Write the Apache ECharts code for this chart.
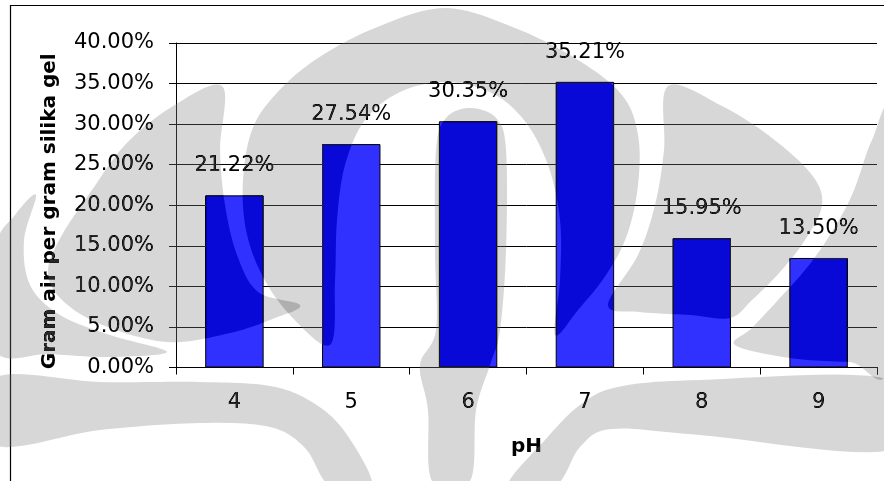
<!DOCTYPE html>
<html>
<head>
<meta charset="utf-8">
<script src="https://cdn.jsdelivr.net/npm/echarts@6/dist/echarts.min.js"></script>
<style>
  html, body { margin: 0; padding: 0; background: #ffffff; }
  #chart { width: 884px; height: 481px; }
</style>
</head>
<body>
<div id="chart"></div>
<script>
// pH values tested and water uptake (gram air per gram silika gel, in %)
const phLevels = ['4', '5', '6', '7', '8', '9'];
const waterUptake = [21.22, 27.54, 30.35, 35.21, 15.95, 13.50];
const yTicks = { min: 0, max: 40, step: 5 };

const textFont = 'DejaVu Sans';

// Page watermark (university emblem), laid over the page as soft gray pieces
const emblemPieces = [
  // central dome arch
  [[330,345],[290,315],[262,275],[246,230],[243,180],[252,130],[275,95],[315,60],[375,28],[445,8],
   [515,28],[578,60],[622,95],[638,135],[638,185],[627,235],[606,275],[578,310],[555,335],
   [560,280],[560,220],[548,165],[524,120],[490,92],[445,82],[400,92],[365,120],[345,165],[337,220],[335,280]],
  // trunk and stem
  [[470,108],[496,118],[506,150],[506,250],[500,330],[490,365],[476,410],[470,481],
   [432,481],[428,410],[420,365],[436,330],[435,250],[436,150],[446,118]],
  // left wing
  [[222,86],[170,108],[125,145],[92,190],[62,235],[48,270],[60,298],[100,324],[167,342],[230,333],[275,318],[300,305],
   [258,292],[237,255],[225,205],[220,150]],
  // right wing
  [[668,86],[722,106],[772,138],[812,175],[822,205],[805,240],[780,272],[752,300],[730,318],[690,315],[640,312],[608,305],
   [638,255],[655,205],[664,150]],
  // left outer sliver
  [[36,195],[24,240],[30,285],[60,315],[110,335],[167,352],[110,357],[50,354],[-5,350],[-5,250],[15,215]],
  // right outer sliver
  [[872,140],[852,195],[828,238],[805,270],[778,300],[752,328],[735,345],[790,358],[850,362],[890,362],[890,120]],
  // lower left band
  [[-5,378],[100,382],[200,382],[270,386],[312,402],[345,432],[372,486],[330,486],[305,448],[270,427],
   [200,423],[100,430],[-5,445]],
  // lower right band
  [[890,380],[700,380],[618,387],[580,405],[545,440],[508,486],[555,486],[580,447],[612,429],
   [700,435],[890,450]]
];

// Closed Catmull-Rom spline through the given points, sampled into a dense outline
function smoothClosed(pts, steps) {
  const n = pts.length;
  const P = i => pts[(i + n) % n];
  const out = [];
  for (let i = 0; i < n; i++) {
    const p0 = P(i - 1), p1 = P(i), p2 = P(i + 1), p3 = P(i + 2);
    const c1 = [p1[0] + (p2[0] - p0[0]) / 6, p1[1] + (p2[1] - p0[1]) / 6];
    const c2 = [p2[0] - (p3[0] - p1[0]) / 6, p2[1] - (p3[1] - p1[1]) / 6];
    for (let s = 0; s < steps; s++) {
      const t = s / steps, u = 1 - t;
      const a = u * u * u, b = 3 * u * u * t, c = 3 * u * t * t, d = t * t * t;
      out.push([a * p1[0] + b * c1[0] + c * c2[0] + d * p2[0],
                a * p1[1] + b * c1[1] + c * c2[1] + d * p2[1]]);
    }
  }
  return out;
}

// 'difference' with a dark gray turns white paper light gray and darkens the blue bars
const emblemGraphics = emblemPieces.map(pts => ({
  type: 'polygon', z: 100, silent: true,
  shape: { points: smoothClosed(pts, 12) },
  style: { fill: '#282828', stroke: null, blend: 'difference' }
}));

const chart = echarts.init(document.getElementById('chart'), null, { renderer: 'canvas' });

chart.setOption({
  animation: false,
  backgroundColor: '#ffffff',
  grid: { left: 176, right: 7, top: 43, bottom: 113.5, containLabel: false },
  graphic: [
    {
      type: 'rect', z: -10, silent: true,
      shape: { x: 10.5, y: 5.5, width: 900, height: 600 },
      style: { fill: 'none', stroke: '#000000', lineWidth: 1.2 }
    }
  ].concat(emblemGraphics),
  xAxis: {
    type: 'category',
    data: phLevels,
    name: 'pH',
    nameLocation: 'middle',
    nameGap: 69,
    nameTextStyle: { fontFamily: textFont, fontWeight: 'bold', fontSize: 20, color: '#000' },
    axisLine: { lineStyle: { color: '#000', width: 1 } },
    axisTick: { show: true, length: 7, lineStyle: { color: '#000' }, alignWithLabel: false },
    axisLabel: { fontFamily: textFont, fontSize: 21, color: '#000', margin: 25 },
    splitLine: { show: false }
  },
  yAxis: {
    type: 'value',
    min: yTicks.min,
    max: yTicks.max,
    interval: yTicks.step,
    name: 'Gram air per gram silika gel',
    nameLocation: 'middle',
    nameGap: 116,
    nameRotate: 90,
    nameTextStyle: { fontFamily: textFont, fontWeight: 'bold', fontSize: 20, color: '#000', padding: [0, 12, 0, 0] },
    axisLine: { show: true, lineStyle: { color: '#000', width: 1 } },
    axisTick: { show: true, length: 7, lineStyle: { color: '#000' } },
    axisLabel: {
      fontFamily: textFont, fontSize: 21, color: '#000', margin: 22,
      formatter: v => v.toFixed(2) + '%'
    },
    splitLine: { show: true, lineStyle: { color: '#000', width: 1 } }
  },
  series: [{
    type: 'bar',
    data: waterUptake,
    barWidth: '50%',
    itemStyle: { color: '#3030ff', borderColor: '#000', borderWidth: 1 },
    label: {
      show: true,
      position: 'top',
      distance: 19,
      fontFamily: textFont,
      fontSize: 21,
      color: '#000',
      formatter: p => p.value.toFixed(2) + '%'
    }
  }]
});
</script>
</body>
</html>
